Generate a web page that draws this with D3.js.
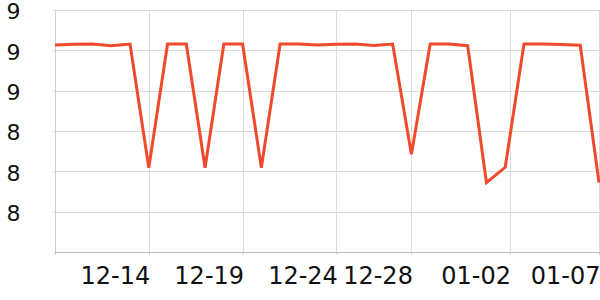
<!DOCTYPE html>
<html>
<head>
<meta charset="utf-8">
<script src="https://cdn.jsdelivr.net/npm/d3@7"></script>
<style>
  body { margin: 0; background: #fff; }
  svg { display: block; }
  svg text { font-family: "DejaVu Sans", sans-serif; }
</style>
</head>
<body>
<script>
// Daily dates shown on the chart
const dates = [
  "2023-12-09", "2023-12-10", "2023-12-11", "2023-12-12", "2023-12-13",
  "2023-12-14", "2023-12-15", "2023-12-16", "2023-12-17", "2023-12-18",
  "2023-12-19", "2023-12-20", "2023-12-21", "2023-12-22", "2023-12-23",
  "2023-12-24", "2023-12-25", "2023-12-26", "2023-12-27", "2023-12-28",
  "2023-12-29", "2023-12-30", "2023-12-31", "2024-01-01", "2024-01-02",
  "2024-01-03", "2024-01-04", "2024-01-05", "2024-01-06", "2024-01-07"
];

// Values
const values = [
  8.826, 8.830, 8.831, 8.823, 8.831,
  8.218, 8.831, 8.831, 8.218, 8.831,
  8.831, 8.218, 8.831, 8.831, 8.826,
  8.830, 8.831, 8.824, 8.831, 8.285,
  8.831, 8.831, 8.823, 8.144, 8.220,
  8.831, 8.831, 8.829, 8.825, 8.144
];

const yTicks = [8.0, 8.2, 8.4, 8.6, 8.8, 9.0];
const xTicks = ["2023-12-14 00:00", "2023-12-19 00:00", "2023-12-24 00:00",
                "2023-12-28 00:00", "2024-01-02 05:30", "2024-01-07 00:00"];

const width = 600, height = 300;
const margin = { top: 10, right: 1, bottom: 48, left: 55 };

const parseDay = d3.timeParse("%Y-%m-%d");
const parseTick = d3.timeParse("%Y-%m-%d %H:%M");

const data = dates.map((d, i) => ({ date: parseDay(d), value: values[i] }));

const svg = d3.select("body").append("svg")
  .attr("width", width)
  .attr("height", height);

const x = d3.scaleTime()
  .domain(d3.extent(data, d => d.date))
  .range([margin.left, width - margin.right]);

const y = d3.scaleLinear()
  .domain([7.8, 9.0])
  .range([height - margin.bottom, margin.top]);

// horizontal grid
svg.append("g")
  .selectAll("line")
  .data(yTicks)
  .join("line")
  .attr("x1", margin.left)
  .attr("x2", width)
  .attr("y1", d => Math.round(y(d)) + 0.5)
  .attr("y2", d => Math.round(y(d)) + 0.5)
  .attr("stroke", "#dcdcdc");

// vertical grid
svg.append("g")
  .selectAll("line")
  .data(xTicks.map(parseTick))
  .join("line")
  .attr("x1", d => Math.round(x(d)) + 0.5)
  .attr("x2", d => Math.round(x(d)) + 0.5)
  .attr("y1", margin.top)
  .attr("y2", height - margin.bottom)
  .attr("stroke", "#dcdcdc");

// y axis
const yAxis = svg.append("g")
  .attr("transform", `translate(${margin.left + 0.5},0)`)
  .call(d3.axisLeft(y).tickValues(yTicks).tickSize(2).tickFormat(d3.format(".0f")))
  .attr("font-family", null);
yAxis.select(".domain").attr("stroke", "#cfcfcf").attr("d", `M-2,${margin.top + 0.5}H0V${height - margin.bottom + 2}`);
yAxis.selectAll(".tick line").attr("stroke", "#cfcfcf");
yAxis.selectAll(".tick text")
  .attr("text-anchor", "start")
  .attr("x", -49)
  .attr("y", 1)
  .attr("dy", "0.36em")
  .style("font-size", "22px")
  .attr("fill", "#111");

// x axis
const xAxis = svg.append("g")
  .attr("transform", `translate(0,${height - margin.bottom + 0.5})`)
  .call(d3.axisBottom(x).tickValues(xTicks.map(parseTick)).tickSize(2).tickFormat(d3.timeFormat("%m-%d")))
  .attr("font-family", null);
xAxis.select(".domain").attr("stroke", "#bdbdbd").attr("d", `M${margin.left},2V0H${width}`);
xAxis.selectAll(".tick text")
  .attr("text-anchor", "end")
  .attr("x", 1)
  .attr("y", 31)
  .attr("dy", 0)
  .style("font-size", "24px")
  .attr("fill", "#111");
xAxis.selectAll(".tick line").attr("stroke", "#bdbdbd");

// line
const line = d3.line()
  .x(d => x(d.date))
  .y(d => y(d.value));

svg.append("path")
  .datum(data)
  .attr("fill", "none")
  .attr("stroke", "#ef4a2b")
  .attr("stroke-width", 3)
  .attr("stroke-linejoin", "miter")
  .attr("d", line);
</script>
</body>
</html>
